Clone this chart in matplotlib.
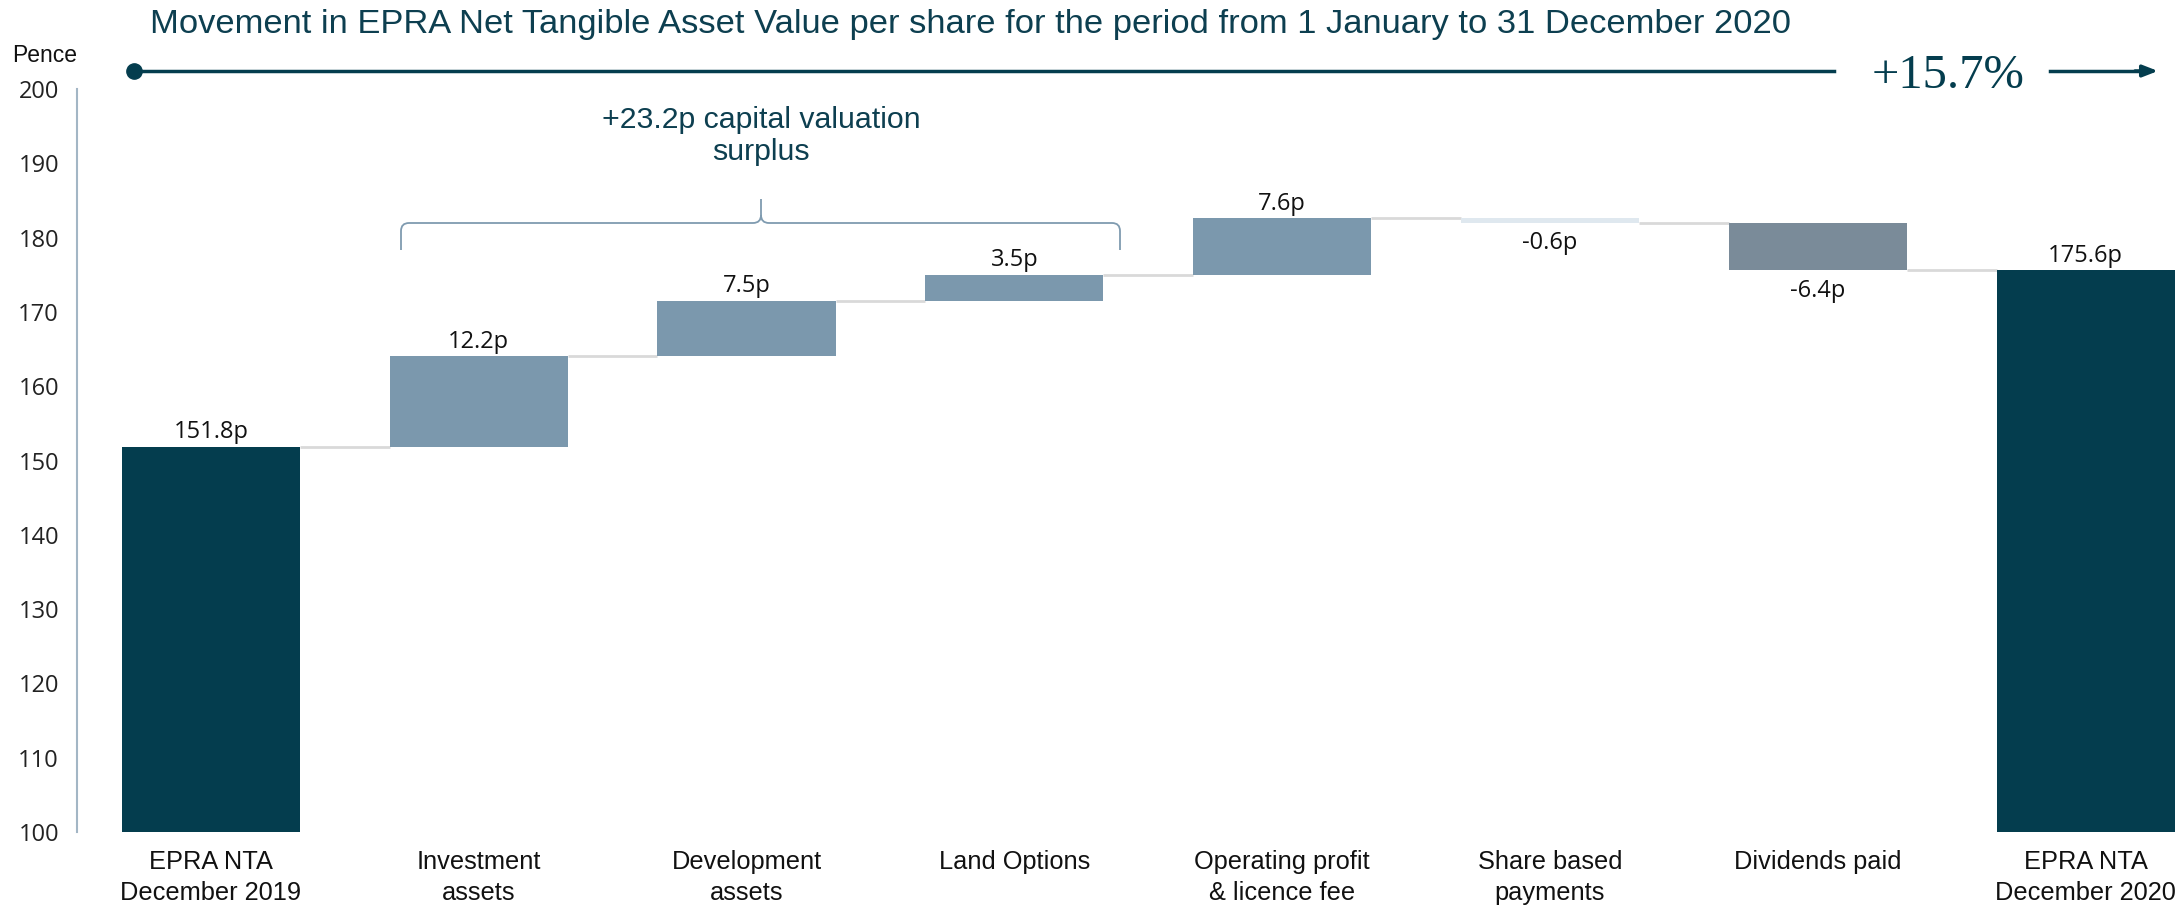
import matplotlib
matplotlib.use("Agg")
import matplotlib.pyplot as plt
from matplotlib.path import Path
from matplotlib.patches import PathPatch
from matplotlib.lines import Line2D

# ---------------- data ----------------
categories = ["EPRA NTA\nDecember 2019", "Investment\nassets", "Development\nassets",
              "Land Options", "Operating profit\n& licence fee", "Share based\npayments",
              "Dividends paid", "EPRA NTA\nDecember 2020"]
start_value = 151.8
changes = [12.2, 7.5, 3.5, 7.6, -0.6, -6.4]
end_value = 175.6
value_labels = ["151.8p", "12.2p", "7.5p", "3.5p", "7.6p", "-0.6p", "-6.4p", "175.6p"]
yticks = [100, 110, 120, 130, 140, 150, 160, 170, 180, 190, 200]
title = "Movement in EPRA Net Tangible Asset Value per share for the period from 1 January to 31 December 2020"
growth_label = "+15.7%"
brace_label = "+23.2p capital valuation\nsurplus"

# ---------------- style ----------------
DARK = "#043d4e"
POS = "#7b98ad"
SBP = "#dfe8ef"
DIV = "#7a8b99"
CONN = "#d9d9d9"
TEAL_TXT = "#0d3f50"
SPINE = "#a3b6c5"

W, H = 2182, 910
fig = plt.figure(figsize=(W / 100, H / 100), dpi=100)

def fx(x):
    return x / W

def fy(y):
    return 1 - y / H

ax = fig.add_axes([fx(77), fy(832), fx(2182) - fx(77), fy(89) - fy(832)])

n = len(categories)
xs = list(range(n))
bw = 0.665

# compute waterfall bottoms/tops
bottoms, heights, colors = [100], [start_value - 100], [DARK]
running = start_value
for i, c in enumerate(changes):
    if c >= 0:
        bottoms.append(running)
        heights.append(c)
    else:
        bottoms.append(running + c)
        heights.append(-c)
    running += c
    if i == len(changes) - 1:
        colors.append(DIV)
    elif c < 0:
        colors.append(SBP)
    else:
        colors.append(POS)
bottoms.append(100)
heights.append(end_value - 100)
colors.append(DARK)

ax.bar(xs, heights, bottom=bottoms, width=bw, color=colors, zorder=3, edgecolor="none")

# connectors
levels = [start_value]
r = start_value
for c in changes:
    r += c
    levels.append(r)
for i in range(n - 1):
    ax.plot([i + bw / 2, i + 1 - bw / 2], [levels[i], levels[i]], color=CONN, lw=2,
            zorder=2, solid_capstyle="butt")

# value labels
vals = [start_value] + changes + [end_value]
for i in range(n):
    top = bottoms[i] + heights[i]
    if 0 < i < n - 1 and vals[i] < 0:
        ax.annotate(value_labels[i], (xs[i], bottoms[i]), xytext=(0, -6),
                    textcoords="offset points", ha="center", va="top",
                    fontsize=17, family="Open Sans", color="#111111")
    else:
        ax.annotate(value_labels[i], (xs[i], top), xytext=(0, 2),
                    textcoords="offset points", ha="center", va="bottom",
                    fontsize=17, family="Open Sans", color="#111111")

ax.set_xlim(-0.5, 7.36)
ax.set_ylim(100, 200)
ax.set_yticks(yticks)
ax.set_yticklabels([str(t) for t in yticks], family="Open Sans", fontsize=17, color="#222222")
ax.tick_params(axis="y", length=0, pad=13)
ax.set_xticks(xs)
ax.set_xticklabels(categories, family="Liberation Sans", fontsize=18.3, color="#111111",
                   linespacing=1.38)
ax.tick_params(axis="x", length=0, pad=13)
for s in ["top", "right", "bottom"]:
    ax.spines[s].set_visible(False)
ax.spines["left"].set_color(SPINE)
ax.spines["left"].set_linewidth(1.5)

# y-axis title
fig.text(fx(12), fy(56), "Pence", family="Liberation Sans", fontsize=16.5, color="#111111",
         ha="left", va="center")

# main title
fig.text(fx(150), fy(25), title, family="Liberation Sans", fontsize=24.8, color=TEAL_TXT,
         ha="left", va="center")

# timeline
fig.add_artist(Line2D([fx(134), fx(1834)], [fy(71), fy(71)], color=DARK, lw=2.5))
fig.add_artist(Line2D([fx(134)], [fy(71)], marker="o", markersize=11, color=DARK, lw=0))
fig.text(fx(1948), fy(76), growth_label, family="Liberation Serif", fontsize=35,
         color=DARK, ha="center", va="center")
fig.add_artist(Line2D([fx(2050), fx(2140)], [fy(71), fy(71)], color=DARK, lw=2.5))
ax.annotate("", xy=(fx(2158), fy(71)), xytext=(fx(2135), fy(71)), xycoords=fig.transFigure,
            arrowprops=dict(arrowstyle="-|>,head_length=0.9,head_width=0.35", color=DARK, lw=2.5,
                            shrinkA=0, shrinkB=0))

# brace
L, R, Y, YE, TX, TY, rr = 401, 1120, 223, 250, 761, 199, 8
verts = [(L, YE), (L, Y + rr), (L, Y), (L + rr, Y), (TX - rr, Y), (TX, Y), (TX, Y - rr),
         (TX, TY), (TX, Y - rr), (TX, Y), (TX + rr, Y), (R - rr, Y), (R, Y), (R, Y + rr), (R, YE)]
codes = [Path.MOVETO, Path.LINETO, Path.CURVE3, Path.CURVE3, Path.LINETO, Path.CURVE3,
         Path.CURVE3, Path.LINETO, Path.MOVETO, Path.CURVE3, Path.CURVE3, Path.LINETO,
         Path.CURVE3, Path.CURVE3, Path.LINETO]
verts_f = [(fx(a), fy(b)) for a, b in verts]
fig.add_artist(PathPatch(Path(verts_f, codes), transform=fig.transFigure, fill=False,
                         edgecolor="#7f9bb0", lw=1.3))
fig.text(fx(761), fy(136), brace_label, family="Liberation Sans", fontsize=21.8,
         color=TEAL_TXT, ha="center", va="center", linespacing=1.18)

fig.savefig("out.png", dpi=100)
